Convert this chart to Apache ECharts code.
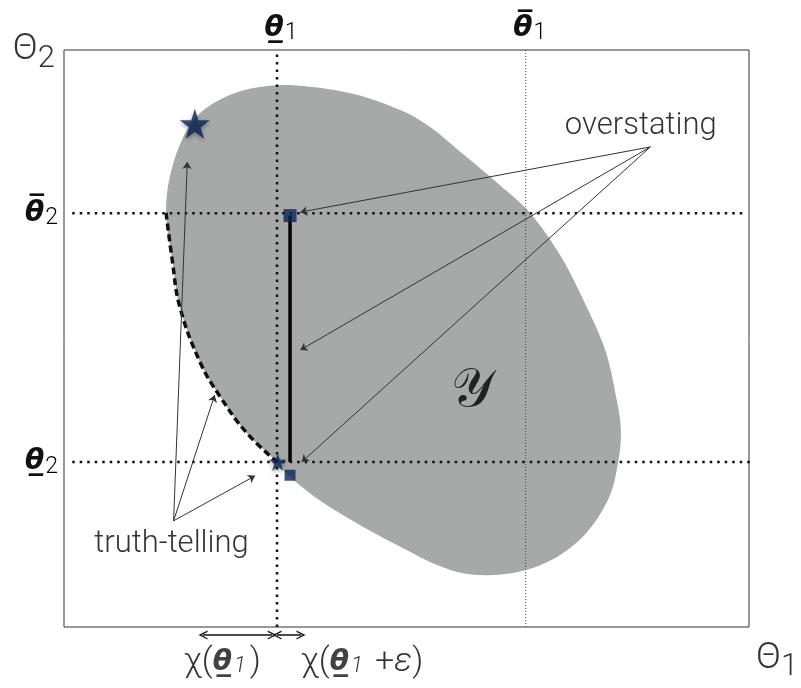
<!DOCTYPE html>
<html lang="en">
<head>
<meta charset="UTF-8">
<title>truth-telling vs overstating</title>
<style>
  html, body { margin: 0; padding: 0; background: #fff; }
  #chart { width: 801px; height: 688px; }
</style>
</head>
<body>
<div id="chart"></div>
<script src="https://cdn.jsdelivr.net/npm/echarts@6/dist/echarts.min.js"></script>
<script>
// thresholds on each type axis
const xTickValues = [3.11, 6.74];
const xTickLabels = ['{t|θ\u0332}{s|1}', '{t|θ\u0305}{s|1}'];
const yTickValues = [2.86, 7.17];
const yTickLabels = ['{t|θ\u0332}{s|2}', '{t|θ\u0305}{s|2}'];

// boundary of the set Y, clockwise from the left tip
const regionX = [1.49, 1.55, 1.74, 1.99, 2.42, 2.86, 3.34, 4.18, 4.91, 5.34, 5.82, 6.36, 6.80, 7.24, 7.58, 7.90, 8.07, 8.13, 8.09, 7.94, 7.53, 6.95, 6.26, 5.64, 4.91, 3.88, 3.30, 3.11, 2.67, 2.28, 1.99, 1.69, 1.58];
const regionY = [7.18, 7.83, 8.49, 8.91, 9.22, 9.36, 9.39, 9.25, 8.96, 8.67, 8.20, 7.66, 7.18, 6.45, 5.67, 4.80, 3.93, 3.41, 2.86, 2.20, 1.51, 1.07, 0.90, 0.99, 1.39, 2.08, 2.60, 2.86, 3.36, 3.99, 4.58, 5.55, 6.36];

// dashed truth-telling frontier
const frontierX = [1.49, 1.58, 1.69, 1.99, 2.28, 2.67, 3.11];
const frontierY = [7.18, 6.36, 5.55, 4.58, 3.99, 3.36, 2.86];

// marked points
const starPoints = [[1.91, 8.72], [3.12, 2.86]];
const squarePoints = [[3.30, 7.13], [3.30, 2.63]];
const overstateBar = [[3.30, 7.13], [3.30, 2.86]];

// annotation arrows
const overstateFrom = [8.56, 8.32];
const overstateTo = [[3.45, 7.19], [3.45, 4.80], [3.47, 2.86]];
const truthFrom = [1.60, 1.84];
const truthTo = [[1.80, 8.06], [2.20, 4.02], [2.79, 2.62]];
const chiSpans = [[[2.03, -0.14], [3.04, -0.14]], [[3.11, -0.14], [3.46, -0.14]]];

const regionPts = regionX.map((x, i) => [x, regionY[i]]);
const frontierPts = frontierX.map((x, i) => [x, frontierY[i]]);

const starPath = 'path://M50,2 L61.2,36.6 L97.6,36.6 L68.2,58 L79.4,92.6 L50,71.2 L20.6,92.6 L31.8,58 L2.4,36.6 L38.8,36.6 Z';
const chevron = 'path://M0,10 L5,0 L10,10 L8.4,10 L5,3.2 L1.6,10 Z';

const thetaRich = {
  t: { fontFamily: 'DejaVu Sans', fontStyle: 'italic', fontWeight: 'bold', fontSize: 28, color: '#111' },
  s: { fontFamily: 'Roboto', fontWeight: 300, fontSize: 23, color: '#000', padding: [10, 0, 0, 1] }
};
const chiRich = {
  c: { fontFamily: 'Roboto', fontWeight: 300, fontSize: 34, color: '#000' },
  t: { fontFamily: 'DejaVu Sans', fontStyle: 'italic', fontWeight: 'bold', fontSize: 28, color: '#111' },
  i: { fontFamily: 'Roboto', fontStyle: 'italic', fontWeight: 300, fontSize: 22, color: '#000', padding: [8, 4, 0, 2] },
  e: { fontFamily: 'Roboto', fontStyle: 'italic', fontWeight: 300, fontSize: 34, color: '#000' }
};
const bigTheta = {
  T: { fontFamily: 'Roboto', fontWeight: 300, fontSize: 37, color: '#000' },
  n: { fontFamily: 'Roboto', fontWeight: 300, fontSize: 31, color: '#000', padding: [18, 0, 0, 0] }
};

const guide = (pts, w, dash, color) => ({
  type: 'line', data: pts, symbol: 'none', clip: false, silent: true, z: 3,
  lineStyle: { width: w, type: dash, color: color, cap: 'butt' }
});

const note = (pos, text, style) => ({
  value: pos,
  label: Object.assign({ show: true, position: 'inside', formatter: text }, style)
});

const chart = echarts.init(document.getElementById('chart'));
chart.setOption({
  animation: false,
  grid: { left: 64, top: 50, width: 685, height: 577, show: true, borderColor: '#333', borderWidth: 1 },
  xAxis: [
    { type: 'value', min: 0, max: 10, axisLine: { show: false }, axisTick: { show: false },
      axisLabel: { show: false }, splitLine: { show: false } },
    { type: 'value', min: 0, max: 10, position: 'top', axisLine: { show: false }, axisTick: { show: false },
      splitLine: { show: false },
      axisLabel: { customValues: xTickValues, margin: 5, rich: thetaRich, padding: [0, 0, 0, 8],
        formatter: v => xTickLabels[xTickValues.indexOf(v)] || '' } }
  ],
  yAxis: [
    { type: 'value', min: 0, max: 10, axisLine: { show: false }, axisTick: { show: false },
      splitLine: { show: false },
      axisLabel: { customValues: yTickValues, margin: 6, rich: thetaRich,
        formatter: v => yTickLabels[yTickValues.indexOf(v)] || '' } }
  ],
  series: [
    {
      type: 'custom', data: regionPts, silent: true, z: 1,
      renderItem: (params, api) => {
        if (params.dataIndex !== 0) return null;
        return {
          type: 'polygon',
          shape: { points: regionPts.map(p => api.coord(p)), smooth: 0.35 },
          style: { fill: '#a6a9a8' }
        };
      }
    },
    guide([[xTickValues[0], 0], [xTickValues[0], 9.95]], 2.5, [2.5, 5], '#111'),
    guide([[xTickValues[1], 0], [xTickValues[1], 10]], 1, [1, 2], '#444'),
    guide([[0.12, yTickValues[1]], [9.94, yTickValues[1]]], 2.5, [2.5, 5], '#111'),
    guide([[0.12, yTickValues[0]], [10.13, yTickValues[0]]], 2.5, [2.5, 5], '#111'),
    {
      type: 'line', data: frontierPts, symbol: 'none', smooth: 0.4, silent: true, z: 4,
      lineStyle: { width: 3.5, type: [7, 4], color: '#111' }
    },
    {
      type: 'line', data: overstateBar, symbol: 'none', silent: true, z: 4,
      lineStyle: { width: 3.5, color: '#000' }
    },
    {
      type: 'lines', coordinateSystem: 'cartesian2d', silent: true, z: 5, clip: false,
      symbol: ['none', 'arrow'], symbolSize: 7,
      lineStyle: { color: '#333', width: 1, opacity: 1, curveness: 0 },
      data: overstateTo.map(t => ({ coords: [overstateFrom, t] }))
        .concat(truthTo.map(t => ({ coords: [truthFrom, t] })))
    },
    {
      type: 'lines', coordinateSystem: 'cartesian2d', silent: true, z: 5, clip: false,
      symbol: [chevron, chevron], symbolSize: 9,
      lineStyle: { color: '#111', width: 1.5, opacity: 1 },
      data: chiSpans.map(s => ({ coords: s }))
    },
    {
      type: 'scatter', data: starPoints, symbol: starPath, silent: true, z: 6, clip: false,
      symbolSize: (v, p) => (p.dataIndex === 0 ? 30 : 18),
      itemStyle: { color: '#0d2458', shadowBlur: 4, shadowColor: 'rgba(0,0,0,0.45)', shadowOffsetY: 2 }
    },
    {
      type: 'scatter', data: squarePoints, symbol: 'rect', silent: true, z: 6,
      symbolSize: (v, p) => (p.dataIndex === 0 ? 13 : 11),
      itemStyle: { color: '#0e2558' }
    },
    {
      type: 'scatter', symbolSize: 1, silent: true, clip: false, z: 7,
      itemStyle: { color: 'rgba(0,0,0,0)' },
      data: [
        note([8.42, 8.67], 'overstating', { fontFamily: 'Roboto', fontWeight: 300, fontSize: 31, color: '#000' }),
        note([1.57, 1.44], 'truth-telling', { fontFamily: 'Roboto', fontWeight: 300, fontSize: 31, color: '#000' }),
        note([5.96, 4.07], '𝒴', { fontFamily: 'DejaVu Serif', fontSize: 54, color: '#000' }),
        note([2.31, -0.62], '{c|χ(}{t|θ\u0332}{i|1}{c|)}', { rich: chiRich }),
        note([4.35, -0.62], '{c|χ(}{t|θ\u0332}{i|1}{c| +}{e|ε}{c|)}', { rich: chiRich }),
        note([-0.44, 10.0], '{T|Θ}{n|2}', { rich: bigTheta }),
        note([10.41, -0.55], '{T|Θ}{n|1}', { rich: bigTheta })
      ]
    }
  ]
});
</script>
</body>
</html>
